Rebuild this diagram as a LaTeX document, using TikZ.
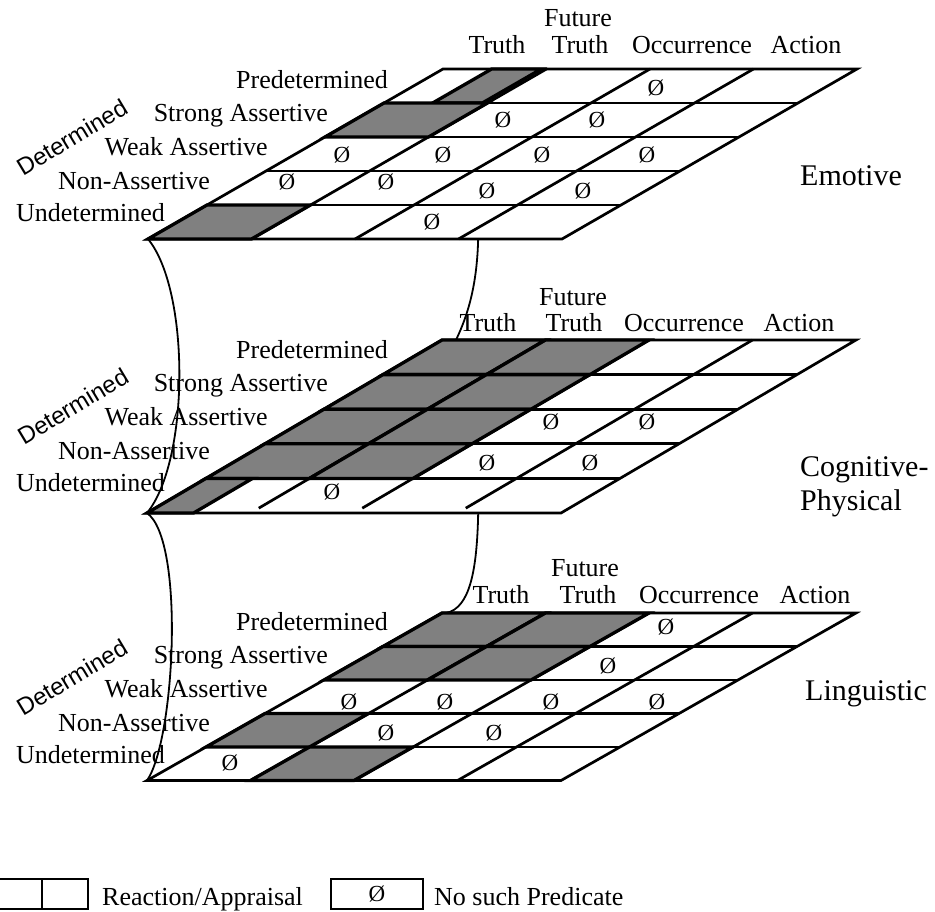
\documentclass[tikz,border=0pt]{standalone}
\usepackage{fontspec}
\setmainfont{Liberation Serif}
\newfontfamily\detfont{Liberation Sans}
\definecolor{cellgrey}{RGB}{128,128,128}
\begin{document}
\begin{tikzpicture}[x=1pt,y=-1pt,
  gridline/.style={line width=2.7pt, line join=miter},
  greycell/.style={fill=cellgrey, draw=black, line width=3.3pt, line join=miter},
  link/.style={line width=1.8pt},
  lbl/.style={font=\fontsize{26}{30}\selectfont, inner sep=0pt},
  rowlbl/.style={lbl, anchor=base east},
  collbl/.style={lbl, anchor=base},
  plane/.style={font=\fontsize{30}{35}\selectfont, inner sep=0pt, anchor=base west},
  nullmark/.style={font=\fontsize{23}{26}\selectfont, inner sep=0pt},
  detlbl/.style={font=\detfont\fontsize{24}{28}\selectfont, inner sep=0pt, rotate=31},
  legendbox/.style={draw, line width=2.4pt}]

\useasboundingbox (0,0) rectangle (935,911);

% ---------------- Panel 1 : Emotive ----------------
\begin{scope}[shift={(443pt,-69pt)}, x={(103.5pt,0pt)}, y={(-59pt,-34pt)}]
  \draw[gridline] (0,0) -- (4,0) -- (4,5) -- (0,5) -- cycle;
  \foreach \r in {1,...,4} \draw[gridline] (0,\r) -- (4,\r);
  \foreach \c in {1,...,3} \draw[gridline] (\c,0) -- (\c,5);
  \draw[greycell] (0.47,0) -- (0.95,0) -- (0.95,1) -- (0.47,1) -- cycle;
  \draw[greycell] (0,1) -- (1,1) -- (1,2) -- (0,2) -- cycle;
  \draw[greycell] (0,4) -- (1,4) -- (1,5) -- (0,5) -- cycle;
  \coordinate (apexA) at (0,5);
  \coordinate (dropA) at (3.19,5);
\end{scope}

% ---------------- Panel 2 : Cognitive-Physical ----------------
\begin{scope}[shift={(442pt,-340pt)}, x={(103.5pt,0pt)}, y={(-59pt,-34.6pt)}]
  \draw[gridline] (0,0) -- (4,0) -- (4,5) -- (0,5) -- cycle;
  \foreach \r in {1,...,4} \draw[gridline] (0,\r) -- (4,\r);
  \foreach \c in {1,...,3} \draw[gridline] (\c,0) -- (\c,4.86);
  \foreach \c in {0,1} \foreach \r in {0,...,3}
    \draw[greycell] (\c,\r) -- ++(1,0) -- ++(0,1) -- ++(-1,0) -- cycle;
  \draw[greycell] (0,4) -- (0.45,4) -- (0.45,5) -- (0,5) -- cycle;
  \coordinate (apexB) at (0,5);
  \coordinate (landB) at (0.135,0);
  \coordinate (dropB) at (3.2,5);
\end{scope}

% ---------------- Panel 3 : Linguistic ----------------
\begin{scope}[shift={(442pt,-613pt)}, x={(103.5pt,0pt)}, y={(-59pt,-33.5pt)}]
  \draw[gridline] (0,0) -- (4,0) -- (4,5) -- (0,5) -- cycle;
  \foreach \r in {1,...,4} \draw[gridline] (0,\r) -- (4,\r);
  \foreach \c in {1,...,3} \draw[gridline] (\c,0) -- (\c,5);
  \foreach \c/\r in {0/0,1/0,0/1,1/1,0/3,1/4}
    \draw[greycell] (\c,\r) -- ++(1,0) -- ++(0,1) -- ++(-1,0) -- cycle;
  \coordinate (apexC) at (0,5);
  \coordinate (landC) at (0.04,0);
\end{scope}

% ---------------- connectors ----------------
\draw[link] (apexA) .. controls (190,290) and (190,460) .. (apexB);
\draw[link] (apexB) .. controls (185,540) and (175,740) .. (apexC);
\draw[link] (dropA) .. controls (477,285) and (468,315) .. (landB);
\draw[link] (dropB) .. controls (477,570) and (470,608) .. (landC);

% ---------------- null marks ----------------
\foreach \x/\y [count=\i] in {656/88, 503/120, 597/120, 342/155, 443/155, 542/155, 647/155,
  287/182, 386/182, 487/191, 583/191, 432/222}
  \node[nullmark] (nA\i) at (\x,\y) {Ø};
\foreach \x/\y [count=\i] in {551/422, 647/422, 487/463, 590/463, 332/492}
  \node[nullmark] (nB\i) at (\x,\y) {Ø};
\foreach \x/\y [count=\i] in {666/627, 608/666, 349/702, 445/702, 551/702, 657/702,
  386/733, 494/733, 230/763}
  \node[nullmark] (nC\i) at (\x,\y) {Ø};

% ---------------- row labels ----------------
\foreach \yo/\p in {0/A, 270/B, 542/C}{
  \node[rowlbl] (pre\p) at (388,88+\yo) {Predetermined};
  \node[rowlbl] (str\p) at (328,121+\yo) {Strong Assertive};
  \node[rowlbl] (wea\p) at (268,155+\yo) {Weak Assertive};
  \node[rowlbl] (non\p) at (210,189+\yo) {Non-Assertive};
  \node[rowlbl] (und\p) at (165,221+\yo) {Undetermined};
}
\node[detlbl] (detA) at (72,137) {Determined};
\node[detlbl] (detB) at (73,406) {Determined};
\node[detlbl] (detC) at (72,677) {Determined};

% ---------------- column labels ----------------
\node[collbl] (trA) at (497,53) {Truth};
\node[collbl] (fuA) at (578,26) {Future};
\node[collbl] (ftA) at (580,53) {Truth};
\node[collbl] (ocA) at (692,53) {Occurrence};
\node[collbl] (acA) at (806,53) {Action};

\node[collbl] (trB) at (488,331) {Truth};
\node[collbl] (fuB) at (573,305) {Future};
\node[collbl] (ftB) at (574,331) {Truth};
\node[collbl] (ocB) at (684,331) {Occurrence};
\node[collbl] (acB) at (799,331) {Action};

\node[collbl] (trC) at (501,603) {Truth};
\node[collbl] (fuC) at (585,576) {Future};
\node[collbl] (ftC) at (588,603) {Truth};
\node[collbl] (ocC) at (699,603) {Occurrence};
\node[collbl] (acC) at (815,603) {Action};

% ---------------- plane labels ----------------
\node[plane] (emo) at (800,185) {Emotive};
\node[plane] (cog) at (800,476) {Cognitive-};
\node[plane] (phy) at (800,510) {Physical};
\node[plane] (lin) at (805,700) {Linguistic};

% ---------------- legend ----------------
\draw[legendbox] (-3,879) rectangle (88,909);
\draw[legendbox] (42,879) -- (42,909);
\node[lbl, anchor=base west] (legA) at (102,905) {Reaction/Appraisal};
\draw[legendbox] (331,879) rectangle (423,909);
\node[nullmark] (legN) at (377,894) {Ø};
\node[lbl, anchor=base west] (legB) at (434,905) {No such Predicate};
\end{tikzpicture}
\end{document}
